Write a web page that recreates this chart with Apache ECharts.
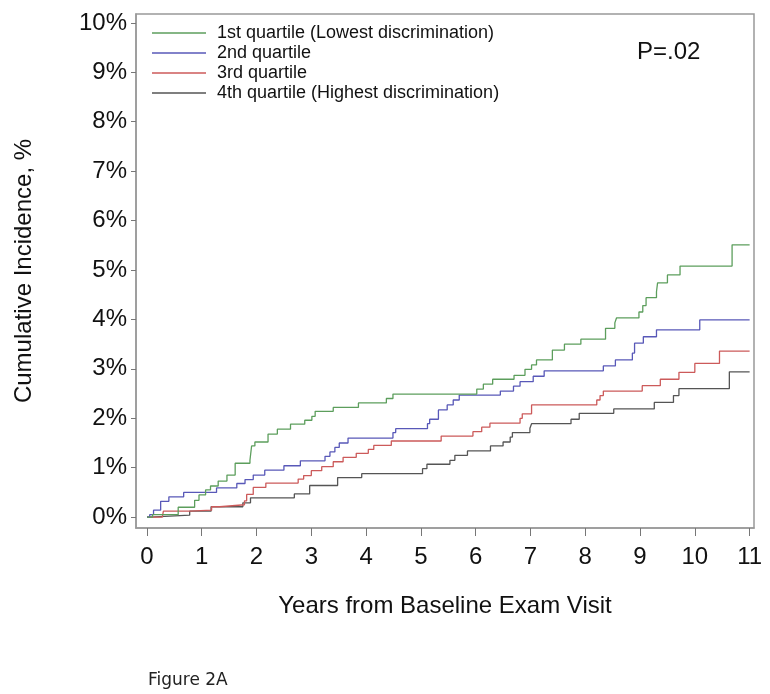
<!DOCTYPE html>
<html>
<head>
<meta charset="utf-8">
<script src="https://cdn.jsdelivr.net/npm/echarts@6/dist/echarts.min.js"></script>
<style>
html,body{margin:0;padding:0;background:#fff;}
#chart{width:770px;height:694px;}
</style>
</head>
<body>
<div id="chart"></div>
<script>
// Data (years, cumulative incidence %)
const seriesNames = [
  '1st quartile (Lowest discrimination)',
  '2nd quartile',
  '3rd quartile',
  '4th quartile (Highest discrimination)'
];
const q1Data = [[0,0],[0.1,0.05],[0.57,0.2],[0.87,0.34],[0.95,0.45],[1.07,0.55],[1.16,0.63],[1.30,0.73],[1.46,0.85],[1.61,1.09],[1.88,1.15],[1.91,1.44],[1.97,1.52],[2.21,1.68],[2.38,1.78],[2.62,1.88],[2.88,1.96],[3.01,2.04],[3.07,2.14],[3.40,2.22],[3.86,2.31],[4.37,2.40],[4.49,2.49],[6.02,2.59],[6.14,2.69],[6.31,2.79],[6.70,2.87],[6.90,2.99],[7.02,3.08],[7.11,3.18],[7.40,3.38],[7.62,3.50],[7.92,3.60],[8.37,3.82],[8.54,3.93],[8.57,4.03],[8.98,4.15],[9.05,4.28],[9.11,4.44],[9.30,4.56],[9.32,4.74],[9.50,4.90],[9.73,5.08],[10.68,5.51],[11,5.51]];
const q2Data = [[0,0],[0.05,0.05],[0.12,0.14],[0.25,0.32],[0.40,0.41],[0.67,0.50],[1.27,0.59],[1.64,0.68],[1.79,0.76],[1.94,0.85],[2.15,0.95],[2.50,1.04],[2.80,1.14],[3.25,1.23],[3.34,1.32],[3.43,1.41],[3.51,1.50],[3.67,1.60],[4.49,1.71],[4.54,1.79],[5.12,1.89],[5.16,1.98],[5.32,2.17],[5.48,2.27],[5.59,2.37],[5.70,2.47],[6.45,2.55],[6.69,2.65],[6.81,2.74],[7.05,2.85],[7.25,2.96],[8.33,3.06],[8.55,3.18],[8.86,3.32],[8.90,3.52],[9.06,3.65],[9.30,3.79],[10.09,3.99],[11,3.99]];
const q3Data = [[0,0],[0.28,0],[0.30,0.12],[0.78,0.14],[1.18,0.21],[1.33,0.25],[1.78,0.33],[1.82,0.46],[1.94,0.60],[2.17,0.69],[2.76,0.77],[2.86,0.84],[3.00,0.94],[3.19,1.02],[3.40,1.12],[3.58,1.21],[3.82,1.29],[4.04,1.37],[4.14,1.45],[4.46,1.54],[5.37,1.64],[5.95,1.73],[6.11,1.82],[6.26,1.90],[6.81,2.00],[6.85,2.09],[7.02,2.27],[8.21,2.37],[8.27,2.46],[8.33,2.55],[9.04,2.66],[9.37,2.79],[9.71,2.93],[10.00,3.11],[10.45,3.36],[11,3.36]];
const q4Data = [[0,0],[0.05,0.04],[0.78,0.12],[1.17,0.21],[1.75,0.29],[1.89,0.39],[2.69,0.47],[2.97,0.64],[3.48,0.80],[3.92,0.88],[5.03,0.98],[5.11,1.07],[5.53,1.15],[5.62,1.25],[5.85,1.34],[6.27,1.44],[6.50,1.52],[6.63,1.62],[6.67,1.71],[6.99,1.80],[7.02,1.89],[7.74,1.98],[7.89,2.10],[8.52,2.19],[9.26,2.32],[9.61,2.46],[9.71,2.60],[10.63,2.94],[11,2.94]];
const xTicks = [0,1,2,3,4,5,6,7,8,9,10,11];
const yTicks = [0,1,2,3,4,5,6,7,8,9,10];
const colors = ['#5c9e5c', '#5858b8', '#cc5a5a', '#555555'];
const allData = [q1Data, q2Data, q3Data, q4Data];

const chart = echarts.init(document.getElementById('chart'), null, {renderer: 'canvas'});
const font = 'Liberation Sans, Arial, Helvetica, sans-serif';
const option = {
  animation: false,
  backgroundColor: '#ffffff',
  color: colors,
  title: [
    {text: 'P=.02', left: 632, top: 35, textStyle: {fontFamily: font, fontSize: 24, fontWeight: 'normal', color: '#111'}},
    {text: 'Figure 2A', left: 143, top: 667, textStyle: {fontFamily: 'DejaVu Sans', fontSize: 17, fontWeight: 'normal', color: '#222'}}
  ],
  legend: {
    orient: 'vertical',
    left: 152,
    top: 23,
    padding: 0,
    itemGap: 0,
    itemWidth: 54,
    itemHeight: 1.5,
    icon: 'rect',
    data: seriesNames,
    textStyle: {fontFamily: font, fontSize: 18, color: '#111', lineHeight: 20, padding: [0, 0, 0, 6]}
  },
  grid: {
    left: 136, right: 16, top: 14, bottom: 166,
    show: true, borderColor: '#999', borderWidth: 1.5
  },
  xAxis: {
    type: 'value',
    min: -0.2, max: 11.08,
    name: 'Years from Baseline Exam Visit',
    nameLocation: 'middle',
    nameGap: 66,
    nameTextStyle: {fontFamily: font, fontSize: 24, color: '#111'},
    axisLine: {show: true, onZero: false, lineStyle: {color: '#999', width: 1.5}},
    axisTick: {show: true, inside: false, length: 8, customValues: xTicks, lineStyle: {color: '#777'}},
    axisLabel: {customValues: xTicks, margin: 17, fontFamily: font, fontSize: 24, color: '#111'},
    splitLine: {show: false}
  },
  yAxis: {
    type: 'value',
    min: -0.22, max: 10.18,
    name: 'Cumulative Incidence, %',
    nameLocation: 'middle',
    nameGap: 100,
    nameTextStyle: {fontFamily: font, fontSize: 24, color: '#111'},
    axisLine: {show: true, onZero: false, lineStyle: {color: '#999', width: 1.5}},
    axisTick: {show: true, inside: false, length: 5, customValues: yTicks, lineStyle: {color: '#777'}},
    axisLabel: {customValues: yTicks, margin: 9, fontFamily: font, fontSize: 24, color: '#111', formatter: v => v + '%'},
    splitLine: {show: false}
  },
  series: seriesNames.map((n, i) => ({
    name: n,
    type: 'line',
    step: 'end',
    symbol: 'none',
    data: allData[i],
    lineStyle: {width: 1.3, color: colors[i]},
    itemStyle: {color: colors[i]},
    z: 4 - i
  }))
};
chart.setOption(option);
</script>
</body>
</html>
